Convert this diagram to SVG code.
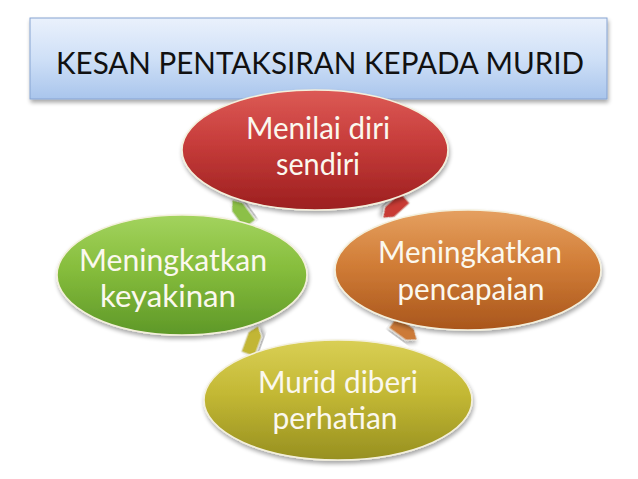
<svg xmlns="http://www.w3.org/2000/svg" width="638" height="479" viewBox="0 0 638 479">
<defs>
<linearGradient id="gTitle" x1="0" y1="0" x2="0" y2="1"><stop offset="0" stop-color="#eaf1fc"/><stop offset="0.5" stop-color="#cfe0f7"/><stop offset="1" stop-color="#a9c5ec"/></linearGradient>
<linearGradient id="gRed" x1="0" y1="0" x2="0" y2="1"><stop offset="0" stop-color="#dc5a55"/><stop offset="0.45" stop-color="#c63c3a"/><stop offset="1" stop-color="#9c1f1f"/></linearGradient>
<linearGradient id="gGreen" x1="0" y1="0" x2="0" y2="1"><stop offset="0" stop-color="#a3d35e"/><stop offset="0.45" stop-color="#86bd3c"/><stop offset="1" stop-color="#5e9828"/></linearGradient>
<linearGradient id="gOrange" x1="0" y1="0" x2="0" y2="1"><stop offset="0" stop-color="#e5a060"/><stop offset="0.45" stop-color="#d17d37"/><stop offset="1" stop-color="#a9561c"/></linearGradient>
<linearGradient id="gOlive" x1="0" y1="0" x2="0" y2="1"><stop offset="0" stop-color="#d9cf55"/><stop offset="0.45" stop-color="#c3b834"/><stop offset="1" stop-color="#979020"/></linearGradient>
<filter id="sh" x="-10%" y="-10%" width="125%" height="130%"><feGaussianBlur in="SourceAlpha" stdDeviation="2"/><feOffset dx="1" dy="3"/><feComponentTransfer><feFuncA type="linear" slope="0.35"/></feComponentTransfer><feMerge><feMergeNode/><feMergeNode in="SourceGraphic"/></feMerge></filter>
</defs>
<style>
.node{stroke:#f4f0dc;stroke-width:1.6;filter:url(#sh)}
.lbl{font-family:Lato,"Open Sans","Liberation Sans",sans-serif;font-size:30px;fill:#fbf8ee;text-anchor:middle}
.title{font-family:Lato,"Open Sans","Liberation Sans",sans-serif;font-size:30px;fill:#111111;text-anchor:middle}
.arr{stroke:#e8e8e0;stroke-width:1;filter:url(#sh)}
</style>
<rect width="638" height="479" fill="#ffffff"/>
<g id="title">
<rect x="30" y="18" width="577" height="81" fill="url(#gTitle)" stroke="#86a3d2" stroke-width="1" filter="url(#sh)"/>
<text class="title" x="320" y="74" textLength="528" lengthAdjust="spacingAndGlyphs">KESAN PENTAKSIRAN KEPADA MURID</text>
</g>
<g id="connectors">
<polygon class="arr" fill="#8cc046" points="-15,-7 6,-7 15,0 6,7 -15,7" transform="translate(241,212) rotate(-126)"/>
<polygon class="arr" fill="#c83a36" points="-15,-7 6,-7 15,0 6,7 -15,7" transform="translate(394,208) rotate(138)"/>
<polygon class="arr" fill="#cc7a38" points="-15,-7 6,-7 15,0 6,7 -15,7" transform="translate(405,331) rotate(36)"/>
<polygon class="arr" fill="#c2b634" points="-15,-7 6,-7 15,0 6,7 -15,7" transform="translate(253,340) rotate(-70)"/>
</g>
<g id="node-menilai">
<ellipse class="node" cx="315" cy="150" rx="133" ry="60" fill="url(#gRed)"/>
<text class="lbl" x="318" y="139" textLength="144" lengthAdjust="spacingAndGlyphs">Menilai diri</text>
<text class="lbl" x="318" y="175" textLength="84" lengthAdjust="spacingAndGlyphs">sendiri</text>
</g>
<g id="node-keyakinan">
<ellipse class="node" cx="182" cy="275" rx="125" ry="60" fill="url(#gGreen)"/>
<text class="lbl" x="173" y="271" textLength="188" lengthAdjust="spacingAndGlyphs">Meningkatkan</text>
<text class="lbl" x="168" y="307" textLength="136" lengthAdjust="spacingAndGlyphs">keyakinan</text>
</g>
<g id="node-pencapaian">
<ellipse class="node" cx="468" cy="270" rx="133" ry="60" fill="url(#gOrange)"/>
<text class="lbl" x="470" y="263" textLength="184" lengthAdjust="spacingAndGlyphs">Meningkatkan</text>
<text class="lbl" x="471" y="300" textLength="147" lengthAdjust="spacingAndGlyphs">pencapaian</text>
</g>
<g id="node-perhatian">
<ellipse class="node" cx="338" cy="400" rx="134" ry="60" fill="url(#gOlive)"/>
<text class="lbl" x="338" y="393" textLength="160" lengthAdjust="spacingAndGlyphs">Murid diberi</text>
<text class="lbl" x="335" y="429" textLength="125" lengthAdjust="spacingAndGlyphs">perhatian</text>
</g>
</svg>
